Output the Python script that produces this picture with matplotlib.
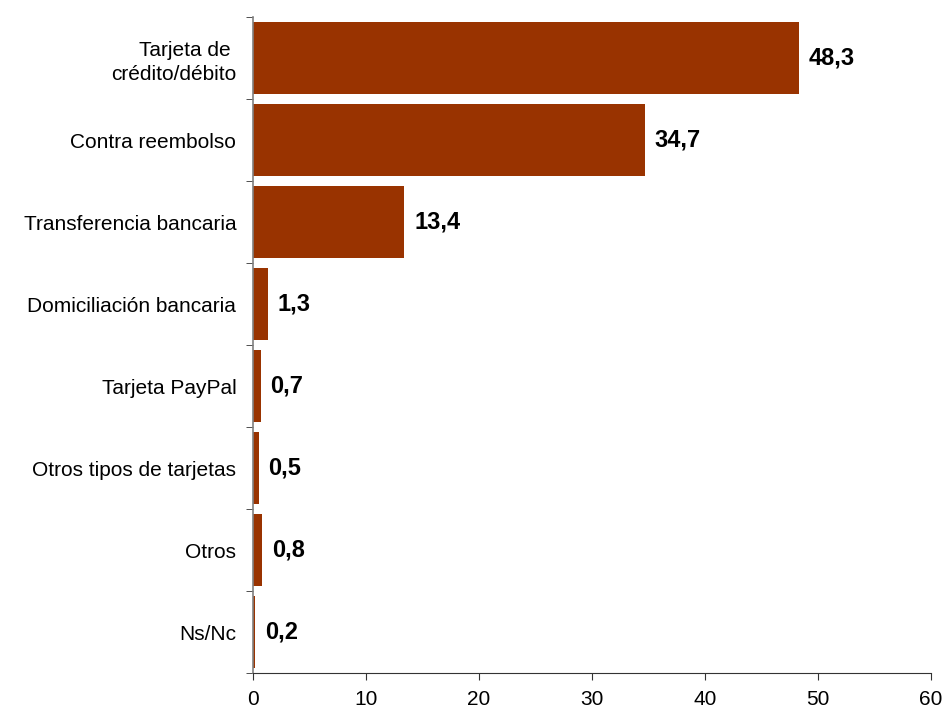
import matplotlib
matplotlib.use('Agg')
import matplotlib.pyplot as plt
import numpy as np

plt.rcParams['font.family'] = ['Liberation Sans', 'DejaVu Sans']

# medios de pago (%)
categorias = ['Tarjeta de \ncrédito/débito', 'Contra reembolso', 'Transferencia bancaria',
              'Domiciliación bancaria', 'Tarjeta PayPal', 'Otros tipos de tarjetas',
              'Otros', 'Ns/Nc']
valores = [48.3, 34.7, 13.4, 1.3, 0.7, 0.5, 0.8, 0.2]
etiquetas = ['48,3', '34,7', '13,4', '1,3', '0,7', '0,5', '0,8', '0,2']

fig = plt.figure(figsize=(9.46, 7.11), dpi=100)
ax = fig.add_axes([0.2674, 0.0534, 0.984 - 0.2674, 0.976 - 0.0534])

y = np.arange(len(categorias))
ax.barh(y, valores, height=0.88, color='#993300')

for yi, v, t in zip(y, valores, etiquetas):
    ax.annotate(t, (v, yi), xytext=(7, 0), textcoords='offset points',
                va='center', ha='left', fontsize=17, fontweight='bold')

ax.set_xlim(0, 60)
ax.set_ylim(len(categorias) - 0.5, -0.5)
ax.set_xticks([0, 10, 20, 30, 40, 50, 60])
ax.set_yticks(y)
ax.set_yticklabels(categorias, linespacing=1.35)
ax.set_yticks(np.arange(len(categorias) + 1) - 0.5, minor=True)

ax.tick_params(axis='y', which='major', length=0, pad=12, labelsize=15)
ax.tick_params(axis='y', which='minor', length=5, color='#333333', direction='out')
ax.tick_params(axis='x', length=5, pad=7, labelsize=15, color='#333333')

ax.spines['top'].set_visible(False)
ax.spines['right'].set_visible(False)
ax.spines['left'].set_color('#808080')
ax.spines['left'].set_linewidth(1.2)
ax.spines['bottom'].set_color('#333333')

fig.savefig('out.png', dpi=100)
